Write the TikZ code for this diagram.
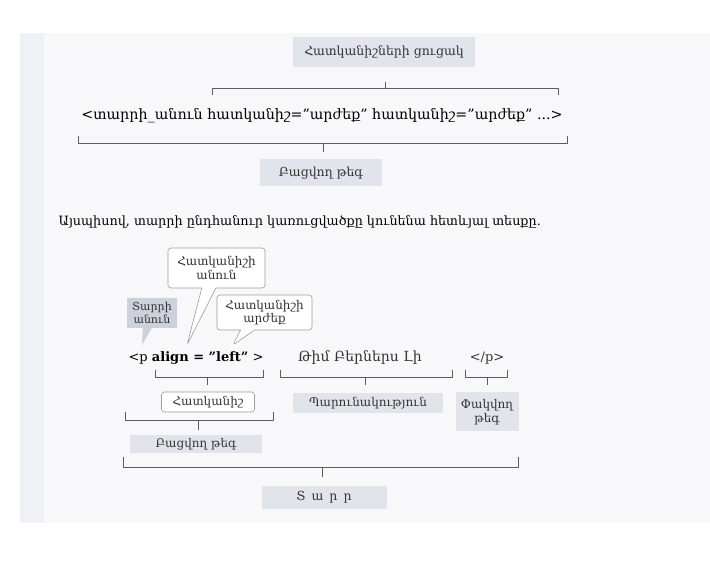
\documentclass[tikz,border=0pt]{standalone}
\usepackage{fontspec}
\setmainfont{DejaVu Serif}
\usepackage{tikz}
\usetikzlibrary{shapes.callouts}

\definecolor{pagebg}{HTML}{F8F8FA}
\definecolor{marginbg}{HTML}{F0F1F4}
\definecolor{boxgray}{HTML}{E2E4EB}
\definecolor{darkbox}{HTML}{CDD1DB}
\definecolor{inkgray}{HTML}{333333}
\definecolor{rulegray}{HTML}{5C5C5C}

\begin{document}
\begin{tikzpicture}[x=1pt, y=-1pt, semithick, line join=round, text=inkgray,
  tag/.style={fill=boxgray, inner sep=1pt, align=center, font=\fontsize{12}{13.5}\selectfont},
  lightbox/.style={draw=rulegray!60, fill=white, rounded corners=3pt, inner sep=1pt, align=center, font=\fontsize{12}{13.5}\selectfont},
  note/.style={rectangle callout, draw=rulegray!60, fill=white, rounded corners=3pt, callout pointer width=14pt, inner sep=1pt, align=center, font=\fontsize{12}{13.5}\selectfont},
  darknote/.style={rectangle callout, fill=darkbox, callout pointer width=9pt, inner sep=1pt, align=center, font=\fontsize{11}{12.5}\selectfont},
  brace/.style={draw=rulegray, thin}]

\useasboundingbox (0,0) rectangle (710,577);
% scanned page
\fill[pagebg] (20,33) rectangle (710,523);
\fill[marginbg] (20,33) rectangle (44,523);

% --- general form of an opening tag
\node[tag, minimum width=182, minimum height=30, font=\fontsize{12.5}{14}\selectfont] (attrlist) at (384,52) {Հատկանիշների ցուցակ};
\node[font=\fontsize{14.3}{16}\selectfont, text=black] (syntax) at (322,116) {<տարրի\_անուն հատկանիշ="արժեք" հատկանիշ="արժեք" ...>};
\node[tag, minimum width=122, minimum height=27, font=\fontsize{12.5}{14}\selectfont] (opentop) at (321,173) {Բացվող թեգ};

\draw[brace] (212,95) -- (212,88) -- (558,88) -- (558,95);
\draw[brace] (385,88) -- (385,82);
\draw[brace] (78,136) -- (78,143) -- (567,143) -- (567,136);
\draw[brace] (323,143) -- (323,152);

\node[anchor=west, font=\fontsize{12.8}{15}\selectfont, text=black] (intro) at (55,222) {Այսպիսով, տարրի ընդհանուր կառուցվածքը կունենա հետևյալ տեսքը.};

% --- example element
\node[font=\fontsize{13}{15}\selectfont, text=black] (ptag) at (196,358) {<p \textbf{align = "left"} >};
\node[font=\fontsize{14}{16}\selectfont] (text) at (360,358) {Թիմ Բերներս Լի};
\node[font=\fontsize{13}{15}\selectfont] (ctag) at (487,358) {</p>};

\coordinate (nametip) at (187,345);
\coordinate (elemtip) at (142,345);
\coordinate (valtip) at (233,345);
\node[note, minimum width=97, minimum height=40, callout absolute pointer={(nametip)}] (attrname) at (216.5,268) {Հատկանիշի\\անուն};
\node[darknote, minimum width=50, minimum height=30, callout absolute pointer={(elemtip)}] (elemname) at (152,313) {Տարրի\\անուն};
\node[note, minimum width=95, minimum height=35, callout absolute pointer={(valtip)}] (attrval) at (264.5,312.5) {Հատկանիշի\\արժեք};

% brackets under the parts
\draw[brace] (155,370) -- (155,377) -- (263,377) -- (263,370);
\draw[brace] (207,377) -- (207,385);
\draw[brace] (280,370) -- (280,377) -- (452,377) -- (452,370);
\draw[brace] (365,377) -- (365,385);
\draw[brace] (465,370) -- (465,377) -- (507,377) -- (507,370);
\draw[brace] (487,377) -- (487,385);

\node[lightbox, minimum width=93, minimum height=20] (attr) at (208,402) {Հատկանիշ};
\node[tag, minimum width=150, minimum height=20] (body) at (368,403) {Պարունակություն};
\node[tag, minimum width=63, minimum height=39] (closetag) at (487,412) {Փակվող\\թեգ};

\draw[brace] (125,412) -- (125,420) -- (273,420) -- (273,412);
\draw[brace] (198,420) -- (198,430);
\node[tag, minimum width=132, minimum height=18] (opentag) at (196,444) {Բացվող թեգ};

\draw[brace] (123,457) -- (123,467) -- (518,467) -- (518,457);
\draw[brace] (322,467) -- (322,477);
\node[tag, minimum width=125, minimum height=23, font=\fontsize{12.5}{14}\selectfont] (element) at (324,497) {Տ\, ա\, ր\, ր};

\end{tikzpicture}
\end{document}
